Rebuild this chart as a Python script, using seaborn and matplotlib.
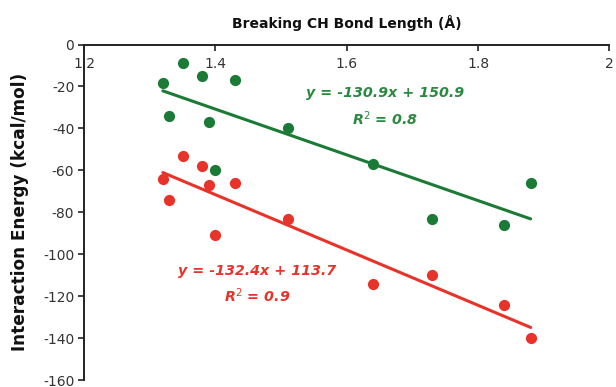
import matplotlib
matplotlib.use("Agg")
import matplotlib.pyplot as plt
import seaborn as sns
import pandas as pd

# breaking CH bond length (A), shared by both series
bond_length = [1.32, 1.33, 1.35, 1.38, 1.39, 1.40, 1.43, 1.51, 1.64, 1.73, 1.84, 1.88]
# interaction energies (kcal/mol)
energy_green = [-18.5, -34, -9, -15, -37, -60, -17, -40, -57, -83, -86, -66]
energy_red = [-64, -74, -53, -58, -67, -91, -66, -83, -114, -110, -124, -140]

x_ticks = [1.2, 1.4, 1.6, 1.8, 2.0]
x_tick_labels = ["1.2", "1.4", "1.6", "1.8", "2"]
y_ticks = [0, -20, -40, -60, -80, -100, -120, -140, -160]

green_eq = "y = -130.9x + 150.9"
green_r2 = "R$^2$ = 0.8"
red_eq = "y = -132.4x + 113.7"
red_r2 = "R$^2$ = 0.9"

green = "#1b7a36"
red = "#e8332b"

df_green = pd.DataFrame({"x": bond_length, "y": energy_green})
df_red = pd.DataFrame({"x": bond_length, "y": energy_red})

sns.set_style("ticks")
plt.rcParams["font.family"] = ["DejaVu Sans"]
plt.rcParams["axes.unicode_minus"] = False

fig = plt.figure(figsize=(6.16, 3.87), dpi=100)
ax = fig.add_axes([0.1364, 0.018, 0.853, 0.867])

sns.regplot(data=df_red, x="x", y="y", ax=ax, ci=None, color=red,
            scatter_kws=dict(s=65, linewidths=0, alpha=1),
            line_kws=dict(lw=2.2))
sns.regplot(data=df_green, x="x", y="y", ax=ax, ci=None, color=green,
            scatter_kws=dict(s=65, linewidths=0, alpha=1),
            line_kws=dict(lw=2.2))

ax.set_xlim(1.2, 2.0)
ax.set_ylim(-160, 0)

## x axis crosses at y = 0 (top of plot), labels under the line
ax.spines["bottom"].set_position(("data", 0))
ax.spines[["right", "top"]].set_visible(False)
for s in ["bottom", "left"]:
    ax.spines[s].set_linewidth(1.4)
    ax.spines[s].set_color("#222222")

ax.set_xticks(x_ticks)
ax.set_xticklabels(x_tick_labels)
ax.set_yticks(y_ticks)
ax.set_yticklabels([str(v) for v in y_ticks])
ax.tick_params(axis="both", direction="out", length=4, width=1.2,
               color="#222222", labelsize=10, labelcolor="#333333")
ax.tick_params(axis="x", pad=5)
ax.tick_params(axis="y", pad=3)

ax.set_xlabel("")
ax.set_ylabel("Interaction Energy (kcal/mol)", fontsize=12.2,
              fontweight="bold", labelpad=10, color="#111111")
ax.set_title("Breaking CH Bond Length (\u00c5)", fontsize=10,
             fontweight="bold", pad=12, color="#111111")

ax.text(1.658, -23.3, green_eq, color="#2a8a40", fontsize=10.3,
        fontweight="bold", style="italic", ha="center", va="center")
ax.text(1.658, -35.4, green_r2, color="#2a8a40", fontsize=10.3,
        fontweight="bold", style="italic", ha="center", va="center")
ax.text(1.464, -108, red_eq, color=red, fontsize=10.3,
        fontweight="bold", style="italic", ha="center", va="center")
ax.text(1.464, -120, red_r2, color=red, fontsize=10.3,
        fontweight="bold", style="italic", ha="center", va="center")

fig.savefig("out.png", dpi=100)
